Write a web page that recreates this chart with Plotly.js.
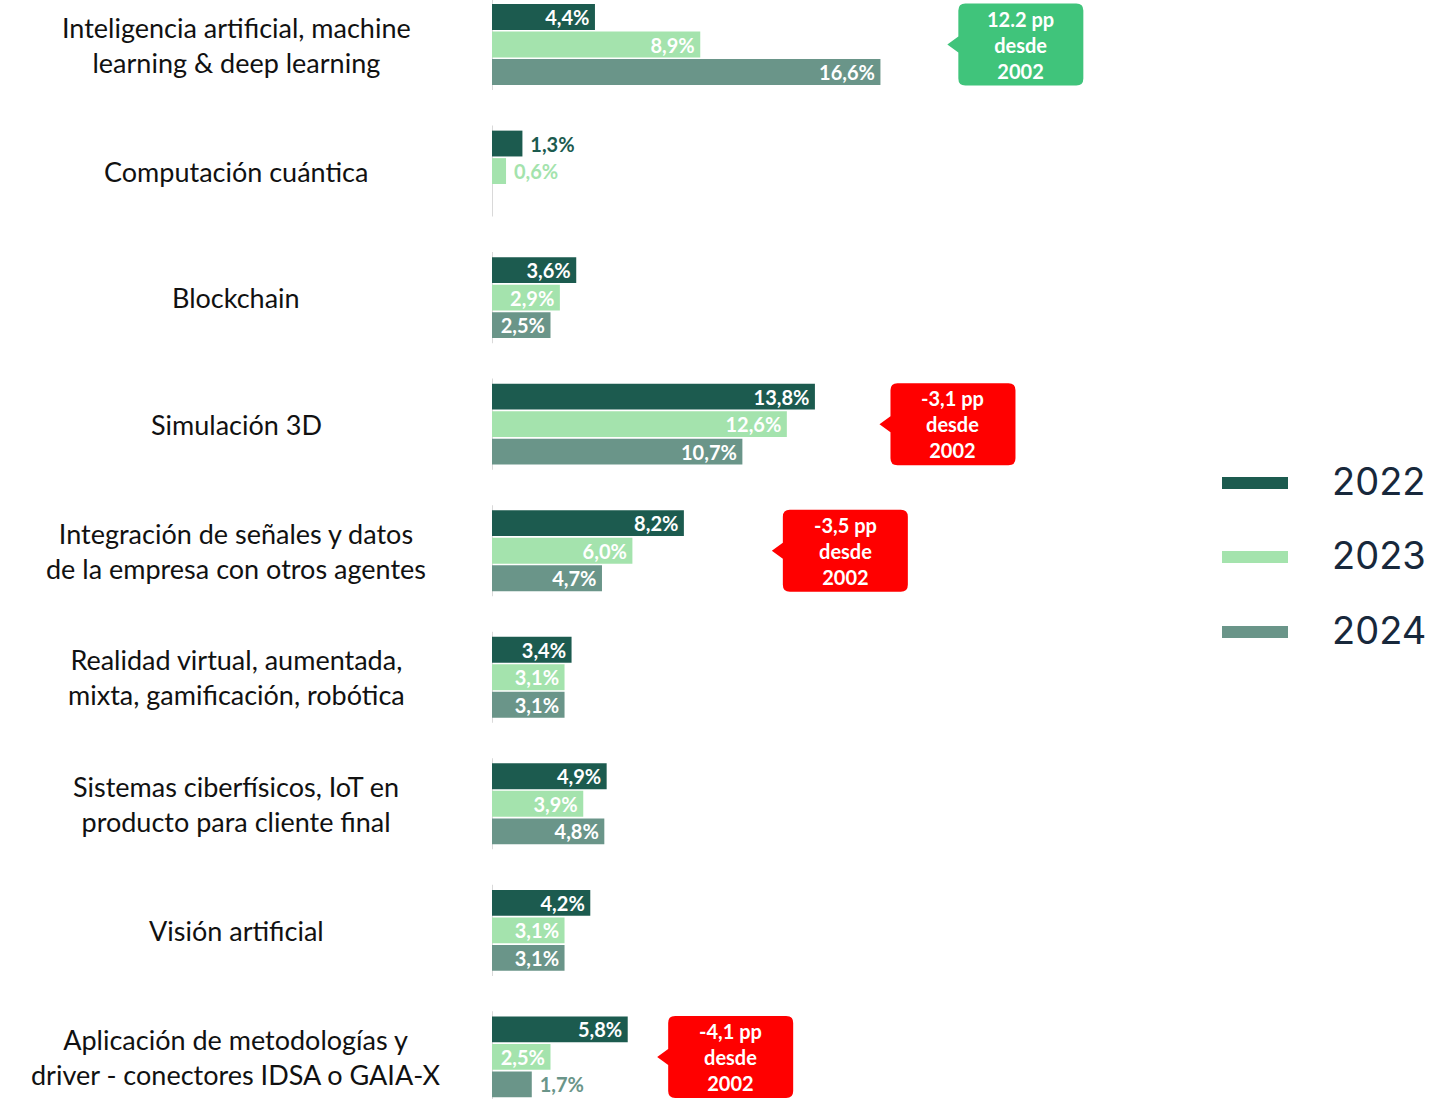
<!DOCTYPE html>
<html>
<head>
<meta charset="utf-8">
<script src="https://cdn.plot.ly/plotly-3.0.1.min.js"></script>
<style>html,body{margin:0;padding:0;background:#fff;}#chart{width:1429px;height:1099px;}</style>
</head>
<body>
<div id="chart"></div>
<script>
const categories = [
  "Inteligencia artificial, machine learning & deep learning",
  "Computación cuántica",
  "Blockchain",
  "Simulación 3D",
  "Integración de señales y datos de la empresa con otros agentes",
  "Realidad virtual, aumentada, mixta, gamificación, robótica",
  "Sistemas ciberfísicos, IoT en producto para cliente final",
  "Visión artificial",
  "Aplicación de metodologías y driver - conectores IDSA o GAIA-X"
];
const tickLabels = [
  "Inteligencia artificial, machine<br>learning & deep learning",
  "Computación cuántica",
  "Blockchain",
  "Simulación 3D",
  "Integración de señales y datos<br>de la empresa con otros agentes",
  "Realidad virtual, aumentada,<br>mixta, gamificación, robótica",
  "Sistemas ciberfísicos, IoT en<br>producto para cliente final",
  "Visión artificial",
  "Aplicación de metodologías y<br>driver - conectores IDSA o GAIA-X"
];
const seriesNames = ["2022", "2023", "2024"];
const v2022 = [4.4, 1.3, 3.6, 13.8, 8.2, 3.4, 4.9, 4.2, 5.8];
const v2023 = [8.9, 0.6, 2.9, 12.6, 6.0, 3.1, 3.9, 3.1, 2.5];
const v2024 = [16.6, null, 2.5, 10.7, 4.7, 3.1, 4.8, 3.1, 1.7];
const calloutCats = [0, 3, 4, 8];
const calloutTexts = ["12.2 pp<br>desde<br>2002", "-3,1 pp<br>desde<br>2002", "-3,5 pp<br>desde<br>2002", "-4,1 pp<br>desde<br>2002"];

const colors = ["#1c5b4f", "#a4e3ad", "#6a9589"];
const calloutColors = ["#40c47b", "#ff0000", "#ff0000", "#ff0000"];
const calloutX = [22.6, 19.7, 15.1, 10.2];

const allValues = [v2022, v2023, v2024];
const isOutside = v => v != null && v < 2;
const fmt = v => {
  if (v == null) return "";
  const s = v.toFixed(1).replace(".", ",") + "%";
  return isOutside(v) ? "\u00a0" + s : s + "\u2009";
};

const traces = allValues.map((vals, k) => ({
  type: "bar",
  orientation: "h",
  name: seriesNames[k],
  y: categories,
  x: vals,
  text: vals.map(fmt),
  textposition: vals.map(v => isOutside(v) ? "outside" : "inside"),
  insidetextanchor: "end",
  constraintext: "none",
  textangle: 0,
  insidetextfont: {family: "Lato", size: 20, color: "#ffffff", weight: 700},
  outsidetextfont: {family: "Lato", size: 20, color: colors[k], weight: 700},
  marker: {color: colors[k]},
  cliponaxis: false,
  hoverinfo: "skip",
  showlegend: false
}));

const W = 1429, H = 1099;
const L = 492, plotW = 702;
const pxToPaperX = px => (px - L) / plotW;
const pxToPaperY = py => 1 - py / H;

function calloutPath(w, h, r, pw, ph) {
  const l = -w / 2, R = w / 2, t = h / 2, b = -h / 2;
  return `M${l + r},${t} L${R - r},${t} Q${R},${t} ${R},${t - r} L${R},${b + r} Q${R},${b} ${R - r},${b} ` +
         `L${l + r},${b} Q${l},${b} ${l},${b + r} L${l},${-ph} L${l - pw},0 L${l},${ph} L${l},${t - r} Q${l},${t} ${l + r},${t} Z`;
}

const shapes = [];
const annotations = [];

categories.forEach((c, i) => {
  shapes.push({type: "line", xref: "x", yref: "y", x0: 0, x1: 0, y0: i - 0.36, y1: i + 0.36,
               line: {color: "#d9d9d9", width: 2}, layer: "below"});
});

tickLabels.forEach((t, i) => {
  annotations.push({xref: "paper", yref: "y", x: pxToPaperX(236), y: i, text: t, showarrow: false,
                    xanchor: "center", yanchor: "middle", align: "center",
                    font: {family: "Lato", size: 27, color: "#111111"}});
});

calloutCats.forEach((ci, j) => {
  shapes.push({type: "path", xref: "x", yref: "y", xsizemode: "pixel", ysizemode: "pixel",
               xanchor: calloutX[j], yanchor: ci, path: calloutPath(125, 82, 7, 11, 8),
               fillcolor: calloutColors[j], line: {width: 0}, layer: "above"});
  annotations.push({xref: "x", yref: "y", x: calloutX[j], y: ci, text: calloutTexts[j], showarrow: false,
                    xanchor: "center", yanchor: "middle", align: "center",
                    font: {family: "Lato", size: 20, color: "#ffffff", weight: 700}});
});

const legendY = [483, 557, 632];
seriesNames.forEach((n, k) => {
  shapes.push({type: "rect", xref: "paper", yref: "paper",
               x0: pxToPaperX(1222), x1: pxToPaperX(1288),
               y0: pxToPaperY(legendY[k] + 6), y1: pxToPaperY(legendY[k] - 6),
               fillcolor: colors[k], line: {width: 0}});
  annotations.push({xref: "paper", yref: "paper", x: pxToPaperX(1428), y: pxToPaperY(legendY[k] - 2),
                    text: n, showarrow: false, xanchor: "right", yanchor: "middle",
                    font: {family: "Inter", size: 38, color: "#18283b"}});
});

const pxPerCat = 126.55, firstCenter = 44.5;
const layout = {
  width: W, height: H,
  margin: {l: L, r: W - L - plotW, t: 0, b: 0, pad: 0},
  paper_bgcolor: "#ffffff", plot_bgcolor: "#ffffff",
  barmode: "group",
  bargap: 0.348,
  bargroupgap: 0.06,
  showlegend: false,
  xaxis: {range: [0, 30], visible: false, fixedrange: true},
  yaxis: {type: "category", range: [(H - firstCenter) / pxPerCat, -firstCenter / pxPerCat], showticklabels: false,
          showgrid: false, zeroline: false, showline: false, ticks: "", fixedrange: true},
  shapes: shapes,
  annotations: annotations,
  font: {family: "Lato"}
};

Plotly.newPlot("chart", traces, layout, {displayModeBar: false, staticPlot: true});
</script>
</body>
</html>
